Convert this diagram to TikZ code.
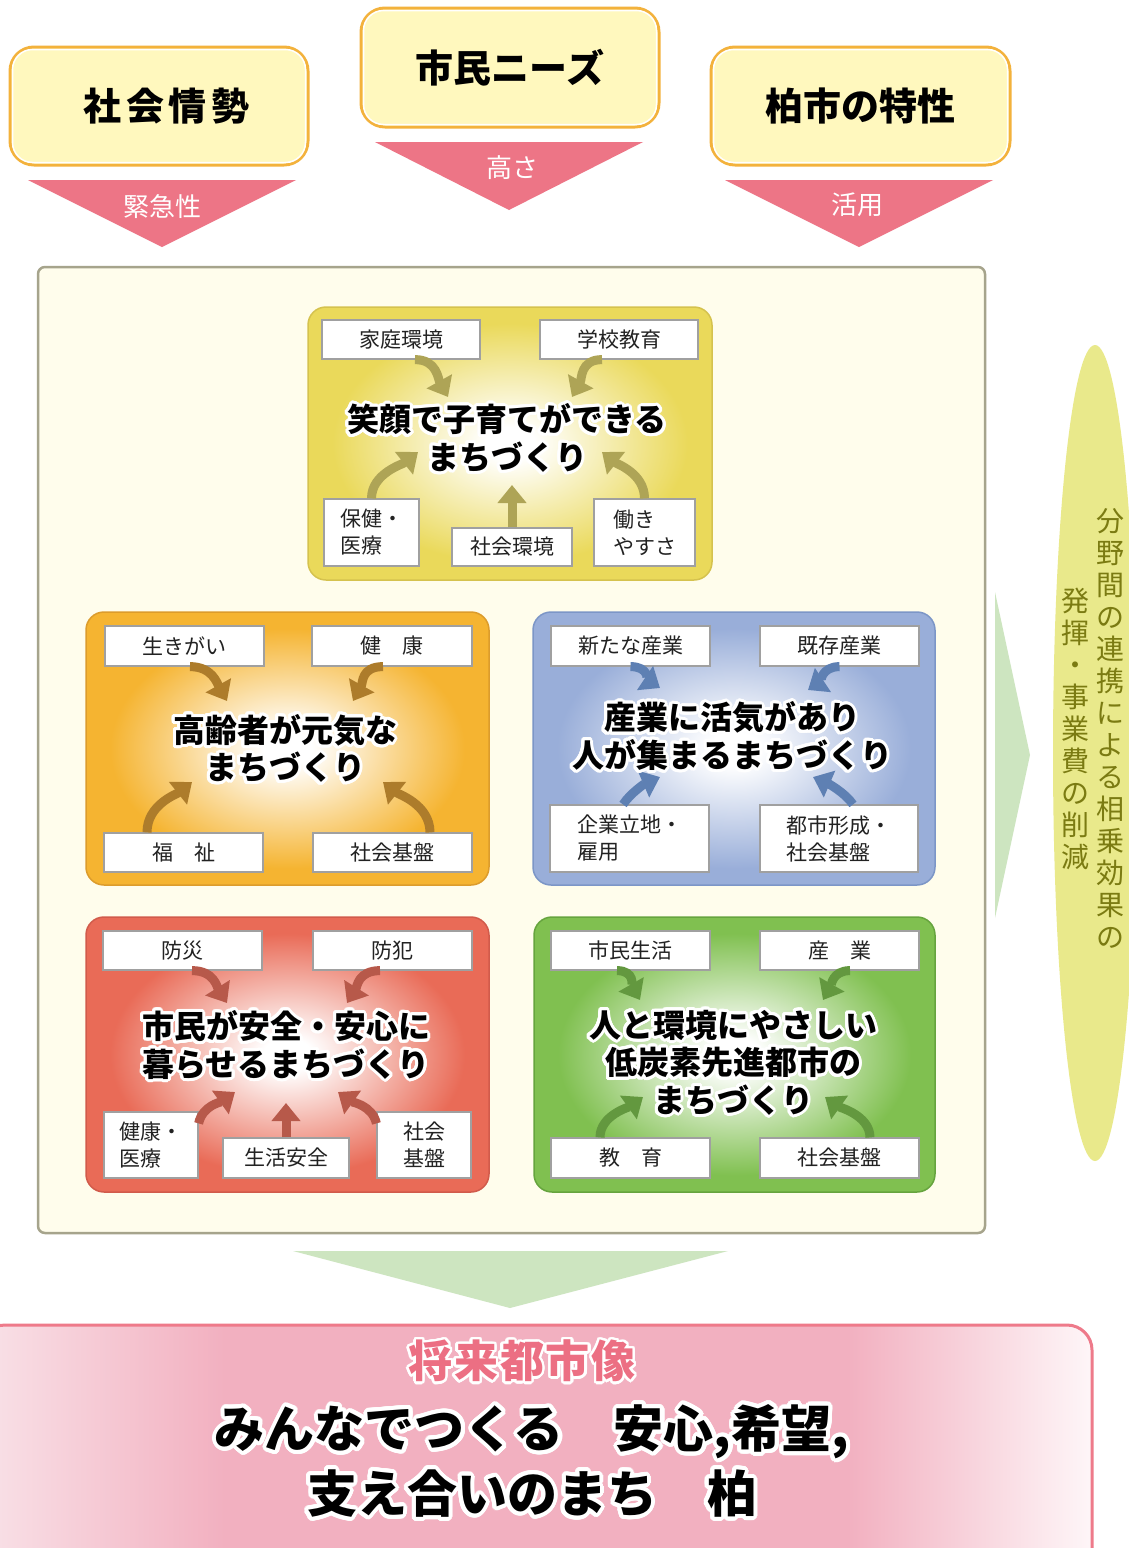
\documentclass[tikz,border=0pt]{standalone}
\usepackage{fontspec}
\setmainfont{Noto Sans CJK JP}
\usepackage{contour}
\contourlength{3pt}
\contournumber{32}
\usetikzlibrary{arrows.meta,shapes.geometric}

\definecolor{topfill}{HTML}{FFF8BE}
\definecolor{toporange}{HTML}{F3B23C}
\definecolor{pinkT}{HTML}{ED7586}
\definecolor{framefill}{HTML}{FFFDEC}
\definecolor{framedraw}{HTML}{A6A48C}
\definecolor{lgreen}{HTML}{CDE5C0}
\definecolor{ellfill}{HTML}{E9E98B}
\definecolor{elltext}{HTML}{7B7B12}
\definecolor{boxc}{HTML}{A0A0A0}
\definecolor{lblc}{HTML}{222222}
\definecolor{panY}{HTML}{EAD95A}
\definecolor{panYd}{HTML}{D5C24E}
\definecolor{panO}{HTML}{F5B431}
\definecolor{panOd}{HTML}{DC9C2C}
\definecolor{panB}{HTML}{99AED9}
\definecolor{panBd}{HTML}{7C96C7}
\definecolor{panR}{HTML}{E96B57}
\definecolor{panRd}{HTML}{D15B4B}
\definecolor{panG}{HTML}{80C050}
\definecolor{panGd}{HTML}{66A43E}
\definecolor{arY}{HTML}{AEA456}
\definecolor{arO}{HTML}{AD7C2B}
\definecolor{arB}{HTML}{5E80B3}
\definecolor{arR}{HTML}{B7594A}
\definecolor{arG}{HTML}{63983F}
\definecolor{pkL}{HTML}{F9E2E8}
\definecolor{pkM}{HTML}{F2B0C0}
\definecolor{pkR}{HTML}{FEF6F8}
\definecolor{pkD}{HTML}{EE7A8A}
\definecolor{futc}{HTML}{EC6F83}

\pgfdeclareradialshading{shY}{\pgfpoint{0bp}{0bp}}{color(0bp)=(white); color(3bp)=(white); color(22bp)=(panY); color(50bp)=(panY)}
\pgfdeclareradialshading{shO}{\pgfpoint{0bp}{0bp}}{color(0bp)=(white); color(3bp)=(white); color(22bp)=(panO); color(50bp)=(panO)}
\pgfdeclareradialshading{shB}{\pgfpoint{0bp}{0bp}}{color(0bp)=(white); color(3bp)=(white); color(22bp)=(panB); color(50bp)=(panB)}
\pgfdeclareradialshading{shR}{\pgfpoint{0bp}{0bp}}{color(0bp)=(white); color(3bp)=(white); color(22bp)=(panR); color(50bp)=(panR)}
\pgfdeclareradialshading{shG}{\pgfpoint{0bp}{0bp}}{color(0bp)=(white); color(3bp)=(white); color(22bp)=(panG); color(50bp)=(panG)}
\pgfdeclarehorizontalshading{pinkbar}{100bp}{color(0bp)=(pkL); color(25bp)=(pkL); color(36bp)=(pkM); color(64bp)=(pkM); color(75bp)=(pkR); color(100bp)=(pkR)}

\newcommand{\wct}[1]{\contour{white}{#1}}

\begin{document}
\begin{tikzpicture}[x=1pt,y=-1pt,
  topbox/.style={draw=toporange, fill=topfill, line width=3pt, rounded corners=24pt, inner sep=0pt, font=\bfseries\fontsize{38}{44}\selectfont},
  trilbl/.style={text=white, inner sep=0pt, font=\fontsize{26}{30}\selectfont},
  box/.style 2 args={draw=boxc, fill=white, line width=1.2pt, minimum width=#1, minimum height=#2, inner sep=0pt, font=\fontsize{21}{27}\selectfont, text=lblc},
  ttl/.style={align=center, inner sep=0pt, font=\bfseries\fontsize{32}{37.5}\selectfont},
  panel/.style={rounded corners=18pt, line width=1.5pt},
  arr/.style={line width=9pt, draw=#1, -{Triangle[width=28pt,length=18pt]}},
  vtxt/.style={align=center, inner sep=0pt, text=elltext, font=\fontsize{28}{32}\selectfont}
]
\useasboundingbox (0,0) rectangle (1129,1548);
\clip (0,0) rectangle (1129,1548);
\fill[white] (0,0) rectangle (1129,1548);

% ---------- top boxes ----------
\node[topbox, minimum width=298pt, minimum height=118pt] (tS) at (159,106) {\hspace*{15pt}\addfontfeature{LetterSpace=12}社会情勢};
\node[topbox, minimum width=298pt, minimum height=119pt] (tN) at (510,67.5) {市民ニーズ};
\node[topbox, minimum width=299pt, minimum height=118pt] (tC) at (860.5,106) {柏市の特性};
\foreach \b in {tS,tN,tC}{
  \draw[white, line width=1.5pt, rounded corners=20pt] ([shift={(4pt,4pt)}]\b.south west) rectangle ([shift={(-4pt,-4pt)}]\b.north east);
}

% pink triangles
\fill[pinkT] (28,180) -- (296,180) -- (162,247) -- cycle;
\fill[pinkT] (375,142) -- (643,142) -- (509,210) -- cycle;
\fill[pinkT] (725,180) -- (993,180) -- (859,247) -- cycle;
\node[trilbl] (lU) at (162,207) {緊急性};
\node[trilbl] (lN) at (512,168) {高さ};
\node[trilbl] (lC) at (857,205) {活用};

% ---------- main frame ----------
\draw[fill=framefill, draw=framedraw, line width=2.5pt, rounded corners=7pt] (38,267) rectangle (985,1233);

% ---------- yellow panel ----------
\path[panel, shade, shading=shY, draw=panYd] (308,307) rectangle (712,580);
\node[box={158pt}{39pt}] (yK) at (401,339.5) {家庭環境};
\node[box={158pt}{39pt}] (yG) at (619,339.5) {学校教育};
\node[box={95pt}{67pt}, align=left] (yH) at (371.5,532.5) {保健・\\医療};
\node[box={120pt}{38pt}] (yS) at (512,547) {社会環境};
\node[box={101pt}{67pt}, align=left] (yW) at (644.5,532.5) {働き\\やすさ};
\coordinate (yTa) at (448,397);
\coordinate (yTb) at (572,397);
\coordinate (yTc) at (418,452);
\coordinate (yTd) at (512,485);
\coordinate (yTe) at (602,452);
\draw[arr=arY] ([xshift=14pt]yK.south) .. controls +(22,0) and +(-10,-18) .. (yTa);
\draw[arr=arY] ([xshift=-17pt]yG.south) .. controls +(-22,0) and +(10,-18) .. (yTb);
\draw[arr=arY] (yH.north) .. controls +(0,-25) and +(-15,12) .. (yTc);
\draw[arr=arY] (yS.north) -- (yTd);
\draw[arr=arY] (yW.north) .. controls +(0,-25) and +(15,12) .. (yTe);
\node[ttl] (yT) at (507,439.5) {\wct{笑顔で子育てができる}\\\wct{まちづくり}};

% ---------- orange panel ----------
\path[panel, shade, shading=shO, draw=panOd] (86,612) rectangle (489,885);
\node[box={159pt}{40pt}] (oI) at (184.5,646) {生きがい};
\node[box={160pt}{40pt}] (oK) at (392,646) {健　康};
\node[box={159pt}{39pt}] (oF) at (183.5,852.5) {福　祉};
\node[box={159pt}{39pt}] (oS) at (392.5,852.5) {社会基盤};
\coordinate (oTa) at (227,701);
\coordinate (oTb) at (353,701);
\coordinate (oTc) at (192,782);
\coordinate (oTd) at (383,782);
\draw[arr=arO] ([xshift=5.5pt]oI.south) .. controls +(22,0) and +(-10,-18) .. (oTa);
\draw[arr=arO] ([xshift=-9pt]oK.south) .. controls +(-22,0) and +(10,-18) .. (oTb);
\draw[arr=arO] ([xshift=-36.5pt]oF.north) .. controls +(0,-28) and +(-15,12) .. (oTc);
\draw[arr=arO] ([xshift=37.5pt]oS.north) .. controls +(0,-28) and +(15,12) .. (oTd);
\node[ttl] (oT) at (285,750) {\wct{高齢者が元気な}\\\wct{まちづくり}};

% ---------- blue panel ----------
\path[panel, shade, shading=shB, draw=panBd] (533,612) rectangle (935,885);
\node[box={159pt}{40pt}] (bN) at (630.5,646) {新たな産業};
\node[box={159pt}{40pt}] (bE) at (839.5,646) {既存産業};
\node[box={159pt}{67pt}, align=left] (bC) at (629.5,838.5) {企業立地・\\雇用};
\node[box={158pt}{67pt}, align=left] (bU) at (839,838.5) {都市形成・\\社会基盤};
\coordinate (bTa) at (660,688);
\coordinate (bTb) at (808,690);
\coordinate (bTc) at (660,777);
\coordinate (bTd) at (813,777);
\draw[arr=arB] (bN.south) .. controls +(18,0) and +(-12,-8) .. (bTa);
\draw[arr=arB] (bE.south) .. controls +(-18,0) and +(12,-8) .. (bTb);
\draw[arr=arB] ([xshift=-6.5pt]bC.north) .. controls +(8,-12) and +(-14,6) .. (bTc);
\draw[arr=arB] ([xshift=14pt]bU.north) .. controls +(-8,-12) and +(14,6) .. (bTd);
\node[ttl] (bT) at (732,737.5) {\wct{産業に活気があり}\\\wct{人が集まるまちづくり}};

% ---------- red panel ----------
\path[panel, shade, shading=shR, draw=panRd] (86,917) rectangle (489,1192);
\node[box={159pt}{39pt}] (rD) at (182.5,950.5) {防災};
\node[box={159pt}{39pt}] (rC) at (392.5,950.5) {防犯};
\node[box={94pt}{66pt}, align=left] (rH) at (151,1145) {健康・\\医療};
\node[box={126pt}{40pt}] (rL) at (286,1158) {生活安全};
\node[box={94pt}{66pt}, align=center] (rS) at (424,1145) {社会\\基盤};
\coordinate (rTa) at (227,1003);
\coordinate (rTb) at (347,1003);
\coordinate (rTc) at (235,1092);
\coordinate (rTd) at (286,1103);
\coordinate (rTe) at (338,1092);
\draw[arr=arR] ([xshift=9.5pt]rD.south) .. controls +(22,0) and +(-10,-16) .. (rTa);
\draw[arr=arR] ([xshift=-12.5pt]rC.south) .. controls +(-22,0) and +(10,-16) .. (rTb);
\draw[arr=arR] ([yshift=-12pt]rH.north east) .. controls +(4,-18) and +(-14,10) .. (rTc);
\draw[arr=arR] (rL.north) -- (rTd);
\draw[arr=arR] ([yshift=-12pt]rS.north west) .. controls +(-4,-18) and +(14,10) .. (rTe);
\node[ttl] (rT) at (286,1046.5) {\wct{市民が安全・安心に}\\\wct{暮らせるまちづくり}};

% ---------- green panel ----------
\path[panel, shade, shading=shG, draw=panGd] (534,917) rectangle (935,1192);
\node[box={159pt}{39pt}] (gL) at (630.5,950.5) {市民生活};
\node[box={159pt}{39pt}] (gI) at (839.5,950.5) {産　業};
\node[box={159pt}{40pt}] (gE) at (630.5,1158) {教　育};
\node[box={159pt}{40pt}] (gS) at (839.5,1158) {社会基盤};
\coordinate (gTa) at (640,1000);
\coordinate (gTb) at (823,1000);
\coordinate (gTc) at (643,1097);
\coordinate (gTd) at (825,1097);
\draw[arr=arG] ([xshift=-13.5pt]gL.south) .. controls +(18,0) and +(-8,-14) .. (gTa);
\draw[arr=arG] ([xshift=10.5pt]gI.south) .. controls +(-18,0) and +(8,-14) .. (gTb);
\draw[arr=arG] ([xshift=-30.5pt]gE.north) .. controls +(0,-22) and +(-14,10) .. (gTc);
\draw[arr=arG] ([xshift=30.5pt]gS.north) .. controls +(0,-22) and +(14,10) .. (gTd);
\node[ttl] (gT) at (733,1064) {\wct{人と環境にやさしい}\\\wct{低炭素先進都市の}\\\wct{まちづくり}};

% ---------- right side ----------
\fill[lgreen] (995,592) -- (1030,755) -- (995,918) -- cycle;
\fill[ellfill] (1095,753) ellipse [x radius=42, y radius=408];
\node[vtxt] (vR) at (1110,728) {分\\野\\間\\の\\連\\携\\に\\よ\\る\\相\\乗\\効\\果\\の};
\node[vtxt] (vL) at (1075,729) {発\\揮\\・\\事\\業\\費\\の\\削\\減};

% ---------- bottom ----------
\fill[lgreen] (293,1251) -- (728,1251) -- (510,1308) -- cycle;
\path[shade, shading=pinkbar, draw=pkD, line width=3pt, rounded corners=25pt] (-20,1325) rectangle (1092,1600);
\node[inner sep=0pt, text=futc, font=\bfseries\fontsize{44}{48}\selectfont] (fut) at (522,1362) {\addfontfeature{LetterSpace=4}\contourlength{2.5pt}\contour{white}{将来都市像}};
\node[inner sep=0pt, align=center, font=\bfseries\fontsize{50}{65}\selectfont] (main) at (532,1463) {\contourlength{4pt}\contour{white}{みんなでつくる　安心,希望,}\\\contourlength{4pt}\contour{white}{支え合いのまち　柏}};
\end{tikzpicture}
\end{document}
